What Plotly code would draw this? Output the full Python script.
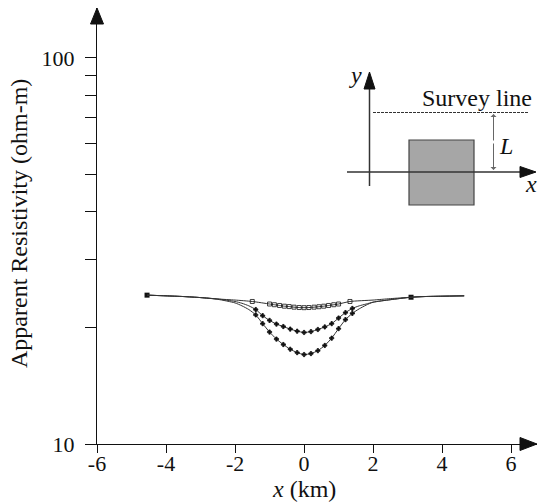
import plotly.graph_objects as go

# ---------------- data ----------------
x_sq = [-4.55, -4.0, -3.5, -3.0, -2.5, -2.0, -1.5, -1.0, -0.86, -0.71, -0.57, -0.43, -0.29, -0.14, 0.0,
        0.14, 0.29, 0.43, 0.57, 0.71, 0.86, 1.0, 1.33, 2.0, 2.5, 3.1, 3.5, 4.0, 4.64]
rho_sq = [24.3, 24.2, 24.1, 23.95, 23.75, 23.6, 23.4, 23.05, 22.95, 22.85, 22.75, 22.7, 22.62, 22.57, 22.55,
          22.57, 22.62, 22.68, 22.75, 22.85, 22.95, 23.05, 23.4, 23.6, 23.8, 24.0, 24.1, 24.15, 24.2]

x_pt = [-4.55, -4.0, -3.5, -3.0, -2.5, -2.0, -1.8, -1.6, -1.4, -1.2, -1.0, -0.8, -0.6, -0.4, -0.2, 0.0,
        0.2, 0.4, 0.6, 0.8, 1.0, 1.2, 1.4, 1.6, 1.8, 2.0, 2.5, 3.1, 3.5, 4.0, 4.64]
rho_mid = [24.3, 24.2, 24.1, 23.95, 23.75, 23.4, 23.15, 22.8, 22.3, 21.5, 20.9, 20.45, 20.15, 19.85, 19.6, 19.45,
           19.55, 19.8, 20.1, 20.5, 21.2, 21.9, 22.45, 22.8, 23.05, 23.3, 23.65, 24.0, 24.1, 24.15, 24.2]
rho_low = [24.3, 24.2, 24.1, 23.95, 23.7, 23.2, 22.8, 22.3, 21.6, 20.5, 19.5, 18.7, 18.1, 17.6, 17.25, 17.05,
           17.15, 17.45, 18.0, 18.8, 19.9, 21.0, 21.8, 22.4, 22.9, 23.3, 23.65, 24.0, 24.1, 24.15, 24.2]

x_ticks = [-6, -4, -2, 0, 2, 4, 6]
y_ticks = [10, 20, 30, 40, 50, 60, 70, 80, 90, 100]
y_tick_text = ["10", "", "", "", "", "", "", "", "", "100"]

# ---------------- geometry helpers (target pixel -> paper) ----------------
W, H = 539, 502
PL, PT, PR, PB = 97, 8, 537, 444  # plot area in pixels
L, T, R, B = PL, PT, W - PR, H - PB
PW, PH = PR - PL, PB - PT


def px(v):
    return (v - PL) / PW


def py(v):
    return (PB - v) / PH


FONT = "Liberation Serif, Times New Roman, serif"
INK = "#111111"

fig = go.Figure()


def add_curve(xs, ys, symbol, size, marker_range):
    fig.add_trace(go.Scatter(x=xs, y=ys, mode="lines",
                             line=dict(color="#333333", width=1, shape="spline", smoothing=0.6),
                             hoverinfo="skip", showlegend=False))
    mx = [a for a in xs if marker_range[0] <= a <= marker_range[1]]
    my = [b for a, b in zip(xs, ys) if marker_range[0] <= a <= marker_range[1]]
    fig.add_trace(go.Scatter(x=mx, y=my, mode="markers",
                             marker=dict(symbol=symbol, size=size, color=INK,
                                         line=dict(color=INK, width=0.8)),
                             hoverinfo="skip", showlegend=False))


add_curve(x_sq, rho_sq, "square-open", 4, (-1.6, 1.4))
ends = [i for i, a in enumerate(x_sq) if a in (-4.55, 3.1)]
fig.add_trace(go.Scatter(x=[x_sq[i] for i in ends], y=[rho_sq[i] for i in ends], mode="markers",
                         marker=dict(symbol="square", size=5, color=INK), showlegend=False))
add_curve(x_pt, rho_mid, "cross", 3.5, (-1.5, 1.5))
add_curve(x_pt, rho_low, "cross", 3.5, (-1.5, 1.5))

shapes = []
# main axis arrow heads
shapes.append(dict(type="path", xref="paper", yref="paper",
                   path=f"M {px(97)} {py(8)} L {px(90.5)} {py(24)} L {px(103.5)} {py(24)} Z",
                   fillcolor=INK, line=dict(color=INK, width=1)))
shapes.append(dict(type="path", xref="paper", yref="paper",
                   path=f"M {px(537)} {py(444)} L {px(520)} {py(437.5)} L {px(520)} {py(450.5)} Z",
                   fillcolor=INK, line=dict(color=INK, width=1)))

# ---- inset diagram ----
shapes.append(dict(type="rect", xref="paper", yref="paper",
                   x0=px(409), x1=px(474), y0=py(205), y1=py(140),
                   fillcolor="#a6a6a6", line=dict(color="#444444", width=1.2)))
shapes.append(dict(type="line", xref="paper", yref="paper",
                   x0=px(347), x1=px(524), y0=py(172), y1=py(172),
                   line=dict(color="#333333", width=1.5)))
shapes.append(dict(type="path", xref="paper", yref="paper",
                   path=f"M {px(536)} {py(172)} L {px(520)} {py(166.5)} L {px(520)} {py(177.5)} Z",
                   fillcolor=INK, line=dict(color=INK, width=1)))
shapes.append(dict(type="line", xref="paper", yref="paper",
                   x0=px(369.5), x1=px(369.5), y0=py(186), y1=py(86),
                   line=dict(color="#333333", width=1.5)))
shapes.append(dict(type="path", xref="paper", yref="paper",
                   path=f"M {px(369.5)} {py(72)} L {px(364)} {py(89)} L {px(375)} {py(89)} Z",
                   fillcolor=INK, line=dict(color=INK, width=1)))
shapes.append(dict(type="line", xref="paper", yref="paper",
                   x0=px(373), x1=px(528), y0=py(112.5), y1=py(112.5),
                   line=dict(color="#333333", width=1.2, dash="3px,1px")))

annotations = []
# L dimension arrow (double headed)
annotations.append(dict(xref="paper", yref="paper", x=px(493.5), y=py(114), ax=0, ay=28,
                        axref="pixel", ayref="pixel", showarrow=True, arrowhead=1, arrowsize=1,
                        arrowwidth=1, arrowcolor="#666666", text=""))
annotations.append(dict(xref="paper", yref="paper", x=px(493.5), y=py(170), ax=0, ay=-28,
                        axref="pixel", ayref="pixel", showarrow=True, arrowhead=1, arrowsize=1,
                        arrowwidth=1, arrowcolor="#666666", text=""))


def label(xv, yv, text, xref="paper", angle=0):
    annotations.append(dict(xref=xref, yref="paper", x=xv, y=yv, text=text, textangle=angle,
                            xanchor="center", yanchor="middle", showarrow=False,
                            font=dict(family=FONT, size=24, color=INK)))


label(px(477), py(98), "Survey line")
label(px(506), py(146), "<i>L</i>")
label(px(355), py(75), "<i>y</i>")
label(px(531), py(184), "<i>x</i>")
label(0, py(489), "<i>x</i> (km)", xref="x")
label(px(19), py(224), "Apparent Resistivity (ohm-m)", angle=-90)

fig.update_layout(
    width=W, height=H,
    margin=dict(l=L, r=R, t=T, b=B, autoexpand=False),
    paper_bgcolor="white", plot_bgcolor="white",
    font=dict(family=FONT, size=22, color=INK),
    showlegend=False,
    shapes=shapes,
    annotations=annotations,
    xaxis=dict(range=[-6, 6.75], tickvals=x_ticks, ticktext=[str(v) for v in x_ticks],
               showgrid=False, zeroline=False, showline=True, linecolor=INK, linewidth=1.3,
               ticks="outside", ticklen=8, tickwidth=1.2, tickcolor=INK, ticklabelstandoff=-9,
               tickfont=dict(family=FONT, size=22, color=INK)),
    yaxis=dict(type="log", range=[1, 2.1295], tickvals=y_ticks, ticktext=y_tick_text,
               showgrid=False, zeroline=False, showline=True, linecolor=INK, linewidth=1.3,
               ticks="outside", ticklen=11, tickwidth=1.2, tickcolor=INK, ticklabelstandoff=6,
               tickfont=dict(family=FONT, size=22, color=INK)),
)

fig.write_html("out.html", config={"displayModeBar": False},
               post_script="document.body.style.margin='0';document.body.style.overflow='hidden';")
